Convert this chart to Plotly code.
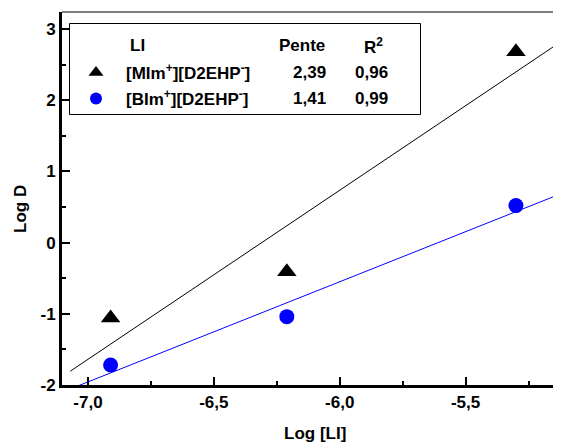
import numpy as np
import plotly.graph_objects as go

# ---------------- data ----------------
x_li = [-6.91, -6.21, -5.30]            # Log [LI]
logd_mim = [-1.06, -0.41, 2.68]         # [MIm+][D2EHP-]
logd_bim = [-1.72, -1.04, 0.52]         # [BIm+][D2EHP-]

table_header = ["LI", "Pente", "R<sup>2</sup>"]
legend_names = ["[MIm<sup>+</sup>][D2EHP<sup>-</sup>]", "[BIm<sup>+</sup>][D2EHP<sup>-</sup>]"]
slopes_text = ["2,39", "1,41"]
r2_text = ["0,96", "0,99"]

x_tickvals = [-7.0, -6.5, -6.0, -5.5]
x_ticktext = ["-7,0", "-6,5", "-6,0", "-5,5"]
x_minor = [-6.75, -6.25, -5.75, -5.25]
y_tickvals = [-2, -1, 0, 1, 2, 3]
y_ticktext = ["-2", "-1", "0", "1", "2", "3"]
y_minor = [-1.5, -0.5, 0.5, 1.5, 2.5]

fit_x_span = [-7.07, -5.135]

# ---------------- layout constants ----------------
PAGE = 8                     # default body margin of the html page
W, H = 561, 444              # window size (reference pixels)
PL, PR, PT, PB = 62, 561, 12, 385   # plot area in reference pixels
FONT = "Liberation Sans, Arial, sans-serif"
BLUE = "#0000FF"


def px(xp):
    return (xp - PL) / (PR - PL)


def py(yp):
    return (PB - yp) / (PB - PT)


fit_x = np.array(fit_x_span)
k1, b1 = np.polyfit(x_li, logd_mim, 1)
k2, b2 = np.polyfit(x_li, logd_bim, 1)

fig = go.Figure()
fig.add_trace(go.Scatter(x=fit_x, y=k1 * fit_x + b1, mode="lines",
                         line=dict(color="black", width=1), showlegend=False))
fig.add_trace(go.Scatter(x=fit_x, y=k2 * fit_x + b2, mode="lines",
                         line=dict(color=BLUE, width=1), showlegend=False))
fig.add_trace(go.Scatter(x=x_li, y=logd_mim, mode="markers",
                         marker=dict(symbol="triangle-up", size=17, color="black"),
                         showlegend=False))
fig.add_trace(go.Scatter(x=x_li, y=logd_bim, mode="markers",
                         marker=dict(symbol="circle", size=15, color=BLUE),
                         showlegend=False))

# legend-table symbols on an overlay paper-like axis
fig.add_trace(go.Scatter(x=[px(96)], y=[py(72.5)], mode="markers", xaxis="x2", yaxis="y2",
                         marker=dict(symbol="triangle-up", size=13, color="black"),
                         showlegend=False))
fig.add_trace(go.Scatter(x=[px(96)], y=[py(98.5)], mode="markers", xaxis="x2", yaxis="y2",
                         marker=dict(symbol="circle", size=12, color=BLUE),
                         showlegend=False))

bold = dict(family=FONT, size=17, color="black", weight="bold")
annotations = []
# header
annotations.append(dict(x=px(128), y=py(46), text=table_header[0], xanchor="left"))
annotations.append(dict(x=px(302), y=py(46), text=table_header[1], xanchor="center"))
annotations.append(dict(x=px(373), y=py(46), text=table_header[2], xanchor="center"))
row_y = [72, 98]
for i in range(2):
    annotations.append(dict(x=px(124), y=py(row_y[i]), text=legend_names[i], xanchor="left"))
    annotations.append(dict(x=px(309), y=py(row_y[i]), text=slopes_text[i], xanchor="center"))
    annotations.append(dict(x=px(371), y=py(row_y[i]), text=r2_text[i], xanchor="center"))
# axis titles
annotations.append(dict(x=px(315), y=py(433), text="Log [LI]", xanchor="center"))
annotations.append(dict(x=px(20), y=py(209), text="Log D", xanchor="center", textangle=-90))
for a in annotations:
    a.update(xref="paper", yref="paper", yanchor="middle", showarrow=False, font=bold)

shapes = [
    dict(type="rect", xref="paper", yref="paper", x0=px(69.5), x1=px(420.5),
         y0=py(114.5), y1=py(23.5), line=dict(color="black", width=1)),
    dict(type="line", xref="paper", yref="paper", x0=0, x1=1, y0=1, y1=1,
         line=dict(color="black", width=1)),
]

fig.update_layout(
    width=W - PAGE, height=H - PAGE,
    margin=dict(l=PL - PAGE, r=W - PR, t=PT - PAGE, b=H - PB),
    paper_bgcolor="white", plot_bgcolor="white",
    showlegend=False,
    annotations=annotations,
    shapes=shapes,
    xaxis=dict(range=[-7.103, -5.121], showline=True, linewidth=3, linecolor="black",
               ticks="inside", ticklen=8, tickwidth=2, tickcolor="black",
               tickmode="array", tickvals=x_tickvals, ticktext=x_ticktext,
               tickfont=bold, showgrid=False, zeroline=False,
               minor=dict(tickmode="array", tickvals=x_minor, ticks="inside", ticklen=4,
                          tickwidth=2, tickcolor="black", showgrid=False)),
    yaxis=dict(range=[-2.0, 3.24], showline=True, linewidth=3, linecolor="black",
               ticks="inside", ticklen=8, tickwidth=2, tickcolor="black",
               tickmode="array", tickvals=y_tickvals, ticktext=y_ticktext,
               tickfont=bold, showgrid=False, zeroline=False,
               minor=dict(tickmode="array", tickvals=y_minor, ticks="inside", ticklen=4,
                          tickwidth=2, tickcolor="black", showgrid=False)),
    xaxis2=dict(overlaying="x", range=[0, 1], visible=False),
    yaxis2=dict(overlaying="y", range=[0, 1], visible=False),
)

fig.write_html("out.html")
